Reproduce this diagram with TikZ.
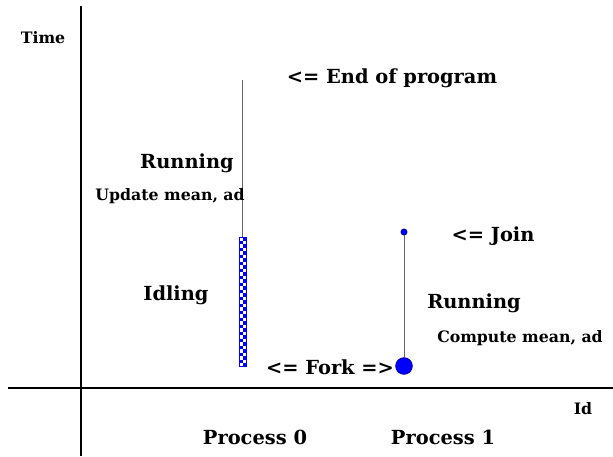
\documentclass[tikz,border=0pt]{standalone}
\usepackage{fontspec}
\setmainfont{DejaVu Serif}
\usepackage{tikz}

\tikzset{
  axis/.style={line width=1.6pt, black},
  life/.style={line width=0.7pt, gray!80!black},
  biglabel/.style={font=\fontsize{13.8}{16}\selectfont\bfseries, inner sep=0pt},
  smalllabel/.style={font=\fontsize{11.2}{13}\selectfont\bfseries, inner sep=0pt},
  bigdot/.style={circle, fill=blue, draw=blue!60!black, inner sep=0pt, minimum size=12pt},
  smalldot/.style={circle, fill=blue, draw=blue!60!black, inner sep=0pt, minimum size=4.5pt}
}

\begin{document}
\begin{tikzpicture}[x=0.025cm, y=-0.025cm]
\useasboundingbox (0,0) rectangle (613,456);

% axes
\coordinate (ytop) at (81,6);
\coordinate (ybot) at (81,456);
\coordinate (xleft) at (8,388);
\coordinate (xright) at (613,388);
\draw[axis] (ytop) -- (ybot);
\draw[axis] (xleft) -- (xright);
\node[smalllabel] (time) at (43,38) {Time};
\node[smalllabel] (id) at (583,409) {Id};

% process 0
\coordinate (p0top) at (242.5,80);
\coordinate (p0wait) at (242.5,237);
\draw[life] (p0top) -- (p0wait);
\foreach \i in {0,...,36} {
  \pgfmathsetmacro{\ya}{237+3.5*\i}
  \ifodd\i
    \fill[blue] (239,\ya) rectangle ++(3.5,3.5);
  \else
    \fill[blue] (242.5,\ya) rectangle ++(3.5,3.5);
  \fi
}
\draw[blue, line width=0.5pt] (239,237) rectangle (246,366.5);
\node[biglabel] (run0) at (187,163) {Running};
\node[smalllabel, anchor=east] (upd0) at (245,196) {Update mean, ad};
\node[biglabel] (idle0) at (176,295) {Idling};
\node[biglabel] (proc0) at (255,437) {Process 0};

% process 1
\node[smalldot] (join1) at (404,232) {};
\node[bigdot] (fork1) at (404,366) {};
\draw[life] (join1) -- (fork1);
\node[biglabel] (run1) at (474,303) {Running};
\node[smalllabel] (comp1) at (520,338) {Compute mean, ad};
\node[biglabel] (proc1) at (443,437) {Process 1};

% events
\node[biglabel] (endprog) at (392,78) {<= End of program};
\node[biglabel] (joinlbl) at (493,236) {<= Join};
\node[biglabel] (forklbl) at (330,367) {<= Fork =>};

\end{tikzpicture}
\end{document}
